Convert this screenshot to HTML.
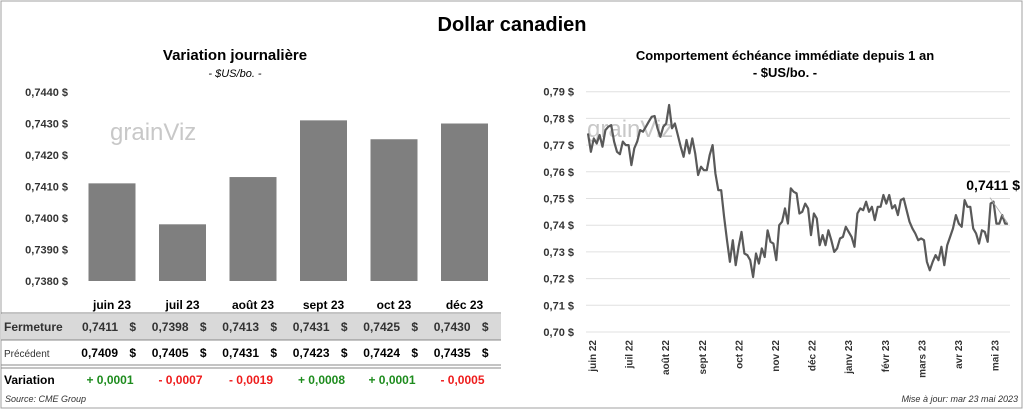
<!DOCTYPE html>
<html><head><meta charset="utf-8"><style>
body{margin:0;background:#fff;font-family:"Liberation Sans",sans-serif}
svg text{font-family:"Liberation Sans",sans-serif}
</style></head><body>
<svg width="1024" height="410" viewBox="0 0 1024 410">
<rect x="1" y="1" width="1021" height="407" fill="#fff" stroke="#a0a0a0"/>
<text x="512" y="31" text-anchor="middle" font-size="20" font-weight="bold">Dollar canadien</text>
<text x="235" y="60" text-anchor="middle" font-size="15" font-weight="bold">Variation  journalière</text>
<text x="235" y="77" text-anchor="middle" font-size="11" font-style="italic">- $US/bo. -</text>
<text x="785" y="60" text-anchor="middle" font-size="13" font-weight="bold">Comportement échéance immédiate depuis 1 an</text>
<text x="785" y="77" text-anchor="middle" font-size="13" font-weight="bold">- $US/bo. -</text>
<g id="left"></g>
<g id="right"></g>
<g id="table"></g>
<text x="5" y="402" font-size="9" font-style="italic" fill="#333">Source: CME Group</text>
<text x="1018" y="402" text-anchor="end" font-size="9" font-style="italic" fill="#333">Mise à jour: mar 23 mai 2023</text>
</svg>
<script>
const barCats=["juin 23","juil 23","août 23","sept 23","oct 23","déc 23"];
const closeVals=[0.7411,0.7398,0.7413,0.7431,0.7425,0.7430];
const prevVals=[0.7409,0.7405,0.7431,0.7423,0.7424,0.7435];
const varLabels=["+ 0,0001","- 0,0007","- 0,0019","+ 0,0008","+ 0,0001","- 0,0005"];
const leftTicks=[0.7440,0.7430,0.7420,0.7410,0.7400,0.7390,0.7380];
const lineVals=[.7744,.7675,.7725,.7706,.7738,.7694,.7756,.7769,.7775,.7713,.7675,.7666,.7713,.7700,.7700,.7625,.7688,.7713,.7756,.7750,.7769,.7788,.7806,.7809,.7763,.7731,.7769,.7781,.7850,.7763,.7781,.7738,.7694,.7656,.7719,.7669,.7725,.7669,.7588,.7619,.7606,.7606,.7663,.7700,.7594,.7531,.7531,.7431,.7344,.7263,.7344,.7250,.7319,.7375,.7294,.7288,.7269,.7206,.7294,.7256,.7313,.7281,.7381,.7338,.7331,.7269,.7400,.7413,.7463,.7406,.7538,.7525,.7519,.7444,.7450,.7481,.7463,.7363,.7444,.7425,.7325,.7363,.7325,.7381,.7344,.7300,.7313,.7350,.7356,.7394,.7375,.7356,.7319,.7444,.7463,.7456,.7488,.7450,.7469,.7419,.7469,.7469,.7513,.7481,.7513,.7463,.7475,.7438,.7494,.7500,.7456,.7413,.7388,.7369,.7344,.7350,.7344,.7263,.7231,.7263,.7288,.7269,.7319,.7250,.7325,.7356,.7388,.7438,.7406,.7394,.7494,.7469,.7469,.7388,.7369,.7331,.7381,.7375,.7338,.7481,.7488,.7406,.7406,.7438,.7406,.7406];
const rightTicks=[0.79,0.78,0.77,0.76,0.75,0.74,0.73,0.72,0.71,0.70];
const monthLabels=["juin 22","juil 22","août 22","sept 22","oct 22","nov 22","déc 22","janv 23","févr 23","mars 23","avr 23","mai 23"];
const lastLabel="0,7411 $";
const NS="http://www.w3.org/2000/svg";
function mk(p,t,a,txt){const e=document.createElementNS(NS,t);for(const k in a)e.setAttribute(k,a[k]);if(txt!==undefined)e.textContent=txt;p.appendChild(e);return e;}
const fmt=(v,d)=>v.toFixed(d).replace('.',',');
// left
const L=document.getElementById('left');
const ly=v=>92+(0.7440-v)/0.001*31.5;
const lx=i=>112+i*70.5;
leftTicks.forEach(t=>{const e=mk(L,'text',{x:68,y:ly(t)+4,'text-anchor':'end','font-size':11,'font-weight':'bold',fill:'#333'},fmt(t,4)+' $');

});
mk(L,'text',{x:110,y:140,'font-size':24,fill:'#c8c8c8'},'grainViz');
closeVals.forEach((v,i)=>{const r=mk(L,'rect',{x:lx(i)-23.5,y:ly(v),width:47,height:ly(0.7380)-ly(v),fill:'#7f7f7f'});

});
// table
const T=document.getElementById('table');
mk(T,'rect',{x:1,y:314,width:500,height:26,fill:'#d9d9d9'});
mk(T,'line',{x1:1,y1:313,x2:501,y2:313,stroke:'#888'});
mk(T,'line',{x1:1,y1:340,x2:501,y2:340,stroke:'#888'});
mk(T,'line',{x1:1,y1:365,x2:501,y2:365,stroke:'#888'});
mk(T,'line',{x1:1,y1:368,x2:501,y2:368,stroke:'#888'});
mk(T,'text',{x:4,y:331,'font-size':12,'font-weight':'bold',fill:'#333'},'Fermeture');
mk(T,'text',{x:4,y:357,'font-size':10,fill:'#333'},'Précédent');
mk(T,'text',{x:4,y:384,'font-size':12,'font-weight':'bold'},'Variation');
barCats.forEach((c,i)=>{
const h=mk(T,'text',{x:lx(i),y:309,'text-anchor':'middle','font-size':12,'font-weight':'bold'},c);


mk(T,'text',{x:lx(i)+6,y:331,'text-anchor':'end','font-size':12,'font-weight':'bold',fill:'#333'},fmt(closeVals[i],4));
mk(T,'text',{x:lx(i)+24,y:331,'text-anchor':'end','font-size':12,'font-weight':'bold',fill:'#333'},'$');
mk(T,'text',{x:lx(i)+6,y:357,'text-anchor':'end','font-size':12,'font-weight':'bold'},fmt(prevVals[i],4));
mk(T,'text',{x:lx(i)+24,y:357,'text-anchor':'end','font-size':12,'font-weight':'bold'},'$');
mk(T,'text',{x:lx(i)-2,y:384,'text-anchor':'middle','font-size':12,'font-weight':'bold',fill:varLabels[i][0]=='+'?'#1e8c1e':'#ee1c1c'},varLabels[i]);
});
// right
const R=document.getElementById('right');
const ry=v=>332-(v-0.70)/0.01*26.7;
const rx=i=>588+i*(420/(lineVals.length-1));
rightTicks.forEach(t=>{
mk(R,'line',{x1:586,y1:ry(t),x2:1010,y2:ry(t),stroke:'#e0e0e0'});
const e=mk(R,'text',{x:574,y:ry(t)+4,'text-anchor':'end','font-size':11,'font-weight':'bold',fill:'#333'},fmt(t,2)+' $');

});
mk(R,'text',{x:587,y:137,'font-size':24,fill:'#c8c8c8'},'grainViz');
const pts=lineVals.map((v,i)=>rx(i).toFixed(1)+','+ry(v).toFixed(1)).join(' ');
const pl=mk(R,'polyline',{points:pts,fill:'none',stroke:'#595959','stroke-width':2.2,'stroke-linejoin':'round'});


const n=lineVals.length-1;
mk(R,'line',{x1:rx(n),y1:ry(lineVals[n]),x2:rx(n)-18,y2:ry(lineVals[n])-26,stroke:'#aaa','stroke-width':0.8});
const ll=mk(R,'text',{x:1020,y:190,'text-anchor':'end','font-size':14,'font-weight':'bold'},lastLabel);


monthLabels.forEach((m,i)=>{const x=592+i*36.6;
const e=mk(R,'text',{transform:`translate(${x+4},340) rotate(-90)`,'text-anchor':'end','font-size':10,'font-weight':'bold',fill:'#333'},m);

});
</script>
</body></html>
